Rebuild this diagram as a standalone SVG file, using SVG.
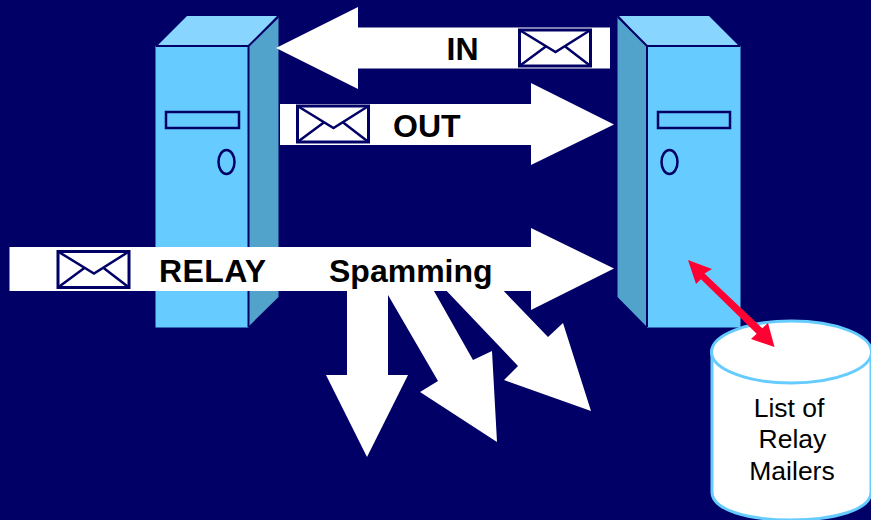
<svg xmlns="http://www.w3.org/2000/svg" width="871" height="520" viewBox="0 0 871 520">
<style>
.front{fill:#66ccff}
.top{fill:#88d6ff}
.side{fill:#52a3cc}
.edge{fill:none;stroke:#000066;stroke-width:2}
.part{fill:#66ccff;stroke:#000066;stroke-width:2.5}
.arrow{fill:#fff}
.env{fill:#fff;stroke:#000066;stroke-width:3}
.envl{fill:none;stroke:#000066;stroke-width:2.500}
.b{font-family:"Liberation Sans",Arial,sans-serif;font-weight:bold;font-size:32px;fill:#000}
.r{font-family:"Liberation Sans",Arial,sans-serif;font-size:26.500px;fill:#000;text-anchor:middle}
</style>
<defs>
<g id="envelope">
<rect class="env" x="0" y="0" width="71" height="36"/>
<path class="envl" d="M0 0L36 22L71 0M0 36L27 16M71 36L45 16"/>
</g>
</defs>
<rect width="871" height="520" fill="#000066"/>
<g id="server-left">
<polygon class="side" points="248,46 278.500,17 278.500,297 248,327"/>
<polygon class="top" points="157,46 187,16 277,16 248,46"/>
<rect class="front" x="155.500" y="46" width="93" height="281.500"/>
<path class="edge" d="M156 46H248.500V327M248.500 46L278 17"/>
<rect class="part" x="166" y="112" width="73" height="16"/>
<ellipse class="part" cx="226.500" cy="162" rx="8" ry="12"/>
</g>
<g id="server-right">
<polygon class="side" points="617.500,17 647,46 647,327 617.500,297"/>
<polygon class="top" points="619,16 709,16 739,46 647,46"/>
<rect class="front" x="647" y="46" width="93.500" height="281.500"/>
<path class="edge" d="M740 46H647V327M647 46L618 17"/>
<rect class="part" x="658" y="112" width="72" height="16"/>
<ellipse class="part" cx="669.500" cy="162" rx="8" ry="12"/>
</g>
<g id="connectors">
<polygon class="arrow" points="276,48 358,7 358,27.500 610,27.500 610,68.500 358,68.500 358,89"/>
<polygon class="arrow" points="280,104 531,104 531,83 614,124.500 531,165 531,145 280,145"/>
<polygon class="arrow" points="347,285 388,285 388,375 408,375 367,457 326,375 347,375"/>
<polygon class="arrow" points="388,295 388,285 430.600,285 473,360 492,351 497,442 420,392 438,381"/>
<polygon class="arrow" points="441,285 498,285 548,337 563,323 591,411 504,380 518,366"/>
<polygon class="arrow" points="9.500,247 531,247 531,228 614,268.500 531,310 531,291 9.500,291"/>
</g>
<g id="envelope-in"><use href="#envelope" x="519.500" y="30"/></g>
<g id="envelope-out"><use href="#envelope" x="297.500" y="106"/></g>
<g id="envelope-relay"><use href="#envelope" x="58" y="251.500"/></g>
<text class="b" x="446.500" y="60">IN</text>
<text class="b" x="393" y="136.500">OUT</text>
<text class="b" x="159" y="281.500" letter-spacing="0.400">RELAY</text>
<text class="b" x="329" y="281.500">Spamming</text>
<g id="database">
<path d="M712 352V492C712 510 748 520 791 520S871 510 871 492V352Z" fill="#fff" stroke="#66ccff" stroke-width="3"/>
<ellipse cx="791.500" cy="352" rx="80" ry="31" fill="#fff" stroke="#66ccff" stroke-width="3"/>
<text class="r" x="789" y="416.500">List of</text>
<text class="r" x="792.500" y="448">Relay</text>
<text class="r" x="792" y="479.500">Mailers</text>
</g>
<g id="red-link">
<polygon points="688,260 712,269 704.500,273.500 762.300,328.200 768,323 774.500,347 751,339 756.700,333.800 701,279.300 696,284" fill="#ff0033"/>
</g>
</svg>
